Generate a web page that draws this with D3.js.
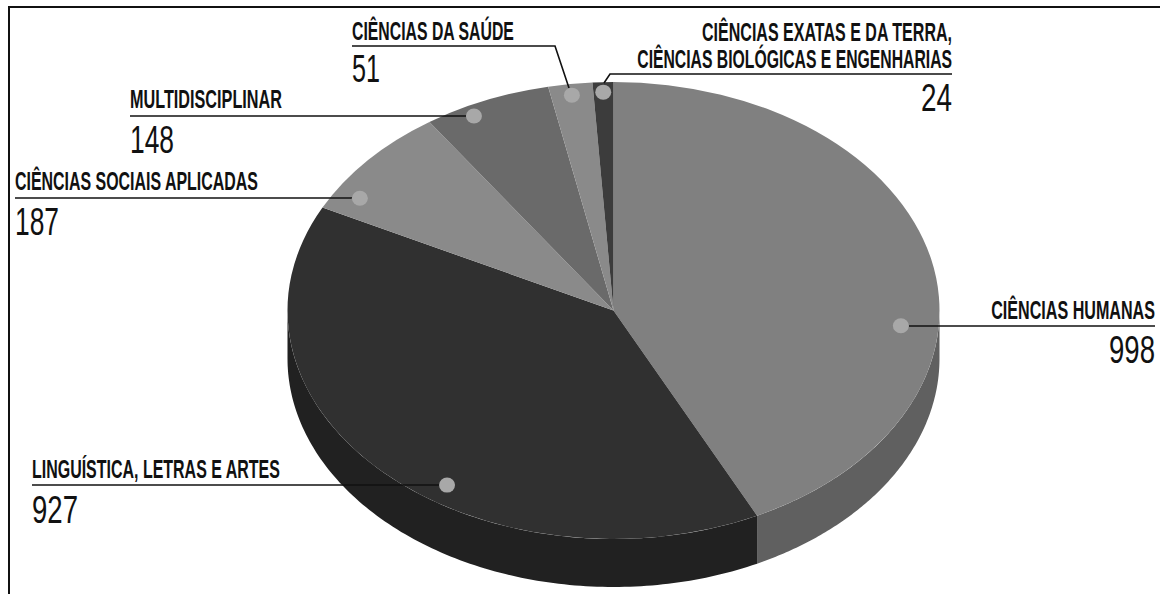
<!DOCTYPE html>
<html><head><meta charset="utf-8">
<script src="https://cdn.jsdelivr.net/npm/d3@7"></script>
<style>html,body{margin:0;padding:0;background:#fff}svg{display:block}</style>
</head><body><svg id="c" width="1160" height="594"></svg>
<script>
const categories = ["CIÊNCIAS HUMANAS","LINGUÍSTICA, LETRAS E ARTES","CIÊNCIAS SOCIAIS APLICADAS","MULTIDISCIPLINAR","CIÊNCIAS DA SAÚDE","CIÊNCIAS EXATAS E DA TERRA,|CIÊNCIAS BIOLÓGICAS E ENGENHARIAS"];
const values = [998,927,187,148,51,24];
const topColors = ["#808080","#303030","#8a8a8a","#6a6a6a","#8a8a8a","#3c3c3c"];
const sideColors = ["#606060","#212121","#6a6a6a","#505050","#6a6a6a","#2a2a2a"];
// position of each marker dot within its slice: fraction along the slice, fraction of radius
const dotT = [.613,.419,.19,.337,.49,.49];
const dotR = [.884,.919,.92,.953,.951,.956];
// callout layout: text anchor, x, title baselines, title widths, value baseline, value width, leader points
const callouts = [
 {anchor:"end",x:1155,tb:[319],tw:[164],vb:363,vw:46,lead:[[1155,326]],from:[909,326]},
 {anchor:"start",x:32,tb:[478],tw:[248],vb:523,vw:46,lead:[[32,485]],from:[440,485]},
 {anchor:"start",x:15,tb:[190],tw:[243],vb:235,vw:44,lead:[[15,198]],from:[352,198]},
 {anchor:"start",x:130,tb:[108],tw:[152],vb:153,vw:44,lead:[[130,116]],from:[466,116]},
 {anchor:"start",x:352,tb:[40],tw:[162],vb:82,vw:28,lead:[[555,46],[352,46]],from:[569,88]},
 {anchor:"end",x:952,tb:[41,68],tw:[250,315],vb:111,vw:31,lead:[[610,74],[952,74]],from:[604,83]}
];

const cx=613.5, cy=310.5, rx=326, ry=228.5, depth=48, R=1000;
const x=d3.scaleLinear().domain([-1,1]).range([cx-rx,cx+rx]);
const y=d3.scaleLinear().domain([-1,1]).range([cy-ry,cy+ry]);
const svg=d3.select("#c");
const font="'Liberation Sans Narrow','Liberation Sans',sans-serif";

// fit a text to a measured width by a horizontal squeeze, keeping it real text
function fitText(str,px,base,anchor,width,size,weight){
  const t=svg.append("text").attr("text-anchor",anchor)
    .attr("font-family",font).attr("font-weight",weight).attr("font-size",size).attr("fill","#111").text(str);
  const sx=width/t.node().getComputedTextLength();
  t.attr("transform",`translate(${px},${base}) scale(${sx},1)`);
}

// frame
svg.append("path").attr("d",d3.line()([[1160,7],[9,7],[9,594]])).attr("fill","none").attr("stroke","#111").attr("stroke-width",2);

const arcs=d3.pie().sort(null).value(d=>d)(values);

// side wall
const side=d3.line();
const lo=Math.PI/2, hi=Math.PI*1.5;
arcs.forEach((a,i)=>{
  const s=Math.max(a.startAngle,lo), e=Math.min(a.endAngle,hi);
  if(e<=s) return;
  const ang=d3.range(0,121).map(k=>s+(e-s)*k/120);
  const upper=ang.map(t=>[x(Math.sin(t)),y(-Math.cos(t))]);
  const lower=ang.slice().reverse().map(t=>[x(Math.sin(t)),y(-Math.cos(t))+depth]);
  svg.append("path").attr("d",side(upper.concat(lower))+"Z").attr("fill",sideColors[i]);
});

// top face
const arc=d3.arc().innerRadius(0).outerRadius(R);
svg.append("g").attr("transform",`translate(${cx},${cy}) scale(${rx/R},${ry/R})`)
  .selectAll("path").data(arcs).join("path")
  .attr("d",arc).attr("fill",(d,i)=>topColors[i]);

// leaders, dots, labels
arcs.forEach((a,i)=>{
  const c=callouts[i];
  svg.append("path").attr("d",d3.line()([c.from,...c.lead])).attr("fill","none").attr("stroke","#111").attr("stroke-width",1.6);
  const t=a.startAngle+(a.endAngle-a.startAngle)*dotT[i];
  svg.append("ellipse").attr("cx",x(dotR[i]*Math.sin(t))).attr("cy",y(-dotR[i]*Math.cos(t)))
    .attr("rx",8).attr("ry",7.5).attr("fill","#a8a8a8");
  categories[i].split("|").forEach((line,k)=>fitText(line,c.x,c.tb[k],c.anchor,c.tw[k],25,700));
  fitText(String(values[i]),c.x,c.vb,c.anchor,c.vw,38,400);
});
</script></body></html>
